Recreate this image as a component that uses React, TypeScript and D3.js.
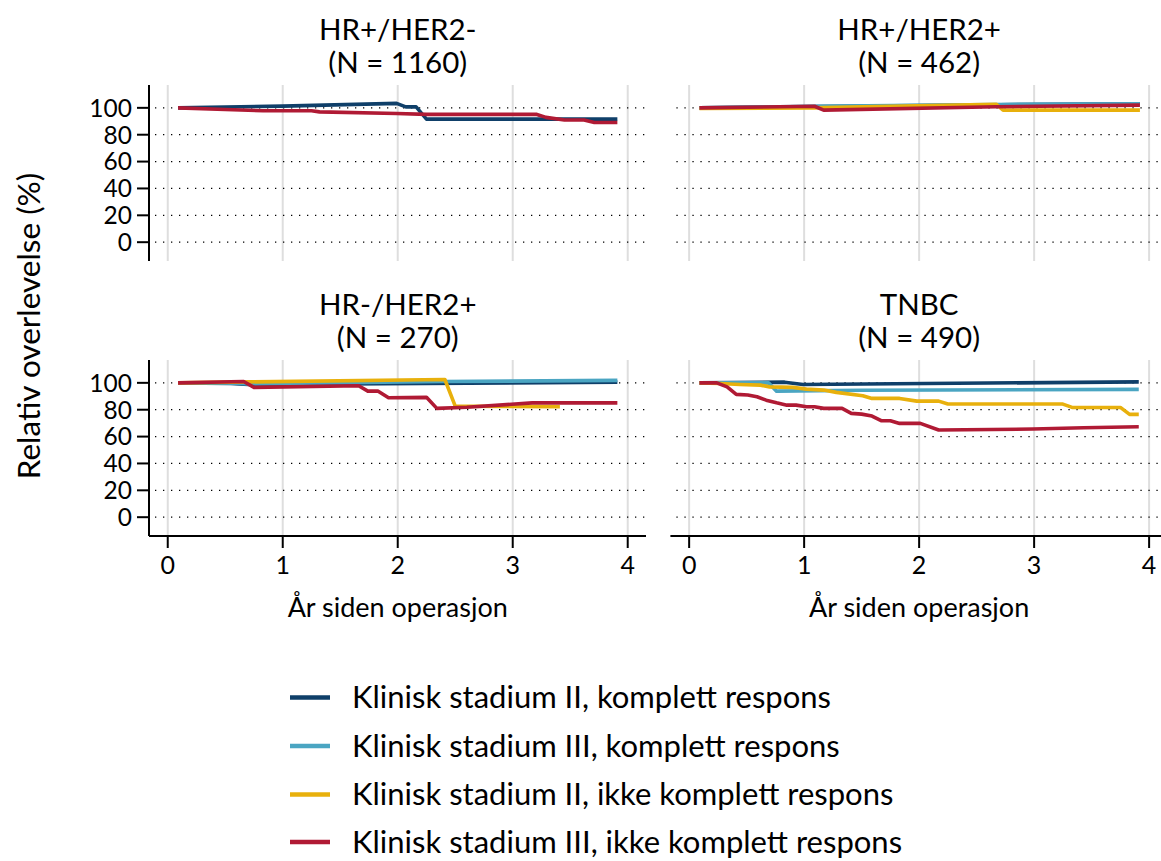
import React from "react";
import * as d3 from "d3";

type Pt = [number, number];

const seriesLabels = [
  "Klinisk stadium II, komplett respons",
  "Klinisk stadium III, komplett respons",
  "Klinisk stadium II, ikke komplett respons",
  "Klinisk stadium III, ikke komplett respons",
];
const seriesColors = ["#0f3f69", "#4aa5c2", "#e8b00c", "#b01a34"];

const panelTitles = ["HR+/HER2-", "HR+/HER2+", "HR-/HER2+", "TNBC"];
const panelN = ["(N = 1160)", "(N = 462)", "(N = 270)", "(N = 490)"];

const xTicks = [0, 1, 2, 3, 4];
const yTicks = [0, 20, 40, 60, 80, 100];

// HR+/HER2-
const p1_s2cr: Pt[] = [[0.09, 100], [1.0, 101.3], [1.99, 103.3], [2.07, 100.7], [2.16, 100.7], [2.25, 91.6], [3.91, 91.6]];
const p1_s3ncr: Pt[] = [[0.09, 100], [0.5, 98.8], [0.83, 97.8], [1.25, 97.8], [1.32, 97], [1.99, 95.8], [2.25, 95.1], [3.21, 95.1], [3.29, 92.9], [3.45, 90.9], [3.62, 90.9], [3.71, 89.1], [3.91, 89.1]];

// HR+/HER2+
const p2_s2cr: Pt[] = [[0.09, 100], [1.09, 101], [2.7, 102.3], [3.92, 103]];
const p2_s3cr: Pt[] = [[0.09, 100], [1.09, 101.2], [2.67, 102.5], [3.92, 103]];
const p2_s2ncr: Pt[] = [[0.09, 99.5], [1.09, 100], [1.17, 100.2], [2.67, 102.7], [2.73, 98.3], [3.92, 98.3]];
const p2_s3ncr: Pt[] = [[0.09, 100], [1.09, 101.2], [1.17, 98.3], [2.67, 100.8], [3.92, 102]];

// HR-/HER2+
const p3_s2cr: Pt[] = [[0.09, 100], [0.55, 99.5], [0.7, 98.8], [1.5, 99.2], [3.91, 100.5]];
const p3_s3cr: Pt[] = [[0.09, 100], [0.6, 99.8], [0.7, 99.2], [1.0, 99.6], [2.4, 101], [3.91, 101.8]];
const p3_s2ncr: Pt[] = [[0.09, 100], [0.71, 100.7], [2.41, 102.5], [2.5, 82.7], [3.41, 82.2]];
const p3_s3ncr: Pt[] = [[0.09, 100], [0.66, 101], [0.75, 96.6], [1.66, 97.8], [1.74, 93.8], [1.83, 93.8], [1.92, 88.9], [2.25, 89.2], [2.34, 81], [2.6, 81.8], [3.17, 85.1], [3.91, 85.1]];

// TNBC
const p4_s2cr: Pt[] = [[0.09, 100], [0.83, 100.5], [0.99, 98.8], [3.91, 100.7]];
const p4_s3cr: Pt[] = [[0.09, 100], [0.69, 100], [0.76, 93.8], [1.5, 94.5], [3.91, 95.1]];
const p4_s2ncr: Pt[] = [[0.09, 100], [0.27, 99.5], [0.44, 98.8], [0.62, 98.3], [0.7, 97.0], [0.9, 96.6], [1.02, 95.3], [1.17, 94.6], [1.28, 92.9], [1.51, 90.4], [1.59, 88.4], [1.83, 88.4], [1.98, 86.4], [2.17, 86.4], [2.25, 84.2], [3.25, 84.2], [3.33, 81.7], [3.75, 81.7], [3.83, 76.5], [3.91, 76.5]];
const p4_s3ncr: Pt[] = [[0.09, 100], [0.24, 100], [0.33, 97.0], [0.41, 91.4], [0.51, 90.9], [0.59, 89.6], [0.67, 87.1], [0.76, 85.1], [0.85, 83.4], [0.93, 83.4], [1.02, 82.2], [1.09, 82.2], [1.17, 81.0], [1.33, 81.0], [1.41, 77.3], [1.5, 76.7], [1.59, 75.3], [1.67, 71.8], [1.75, 71.8], [1.83, 69.8], [2.01, 69.8], [2.17, 64.9], [2.99, 65.6], [3.43, 66.6], [3.91, 67.3]];

const panelSeries: (Pt[] | null)[][] = [
  [p1_s2cr, null, null, p1_s3ncr],
  [p2_s2cr, p2_s3cr, p2_s2ncr, p2_s3ncr],
  [p3_s2cr, p3_s3cr, p3_s2ncr, p3_s3ncr],
  [p4_s2cr, p4_s3cr, p4_s2ncr, p4_s3ncr],
];

const FONT = "Lato, 'Open Sans', sans-serif";

export default function App() {
  const W = 1161, H = 861;
  const panelW = 497;
  const panelH = 176;
  const lefts = [149, 670.4];
  const tops = [85, 360];
  const xDomain: [number, number] = [-0.163, 4.159];
  const yDomain: [number, number] = [-14, 117];

  const panels = [0, 1, 2, 3].map((i) => {
    const col = i % 2, row = Math.floor(i / 2);
    const x0 = lefts[col], y0 = tops[row];
    const x = d3.scaleLinear().domain(xDomain).range([x0, x0 + panelW]);
    const y = d3.scaleLinear().domain(yDomain).range([y0 + panelH, y0]);
    const line = d3.line<Pt>().x((d) => x(d[0])).y((d) => y(d[1]));
    const right = col === 0 ? x0 + panelW : W;
    return (
      <g key={i}>
        <text x={x(2)} y={y0 - 45} textAnchor="middle" fontSize={29.5} fontFamily={FONT} fill="#000">{panelTitles[i]}</text>
        <text x={x(2)} y={y0 - 12} textAnchor="middle" fontSize={29.5} fontFamily={FONT} fill="#000">{panelN[i]}</text>
        {xTicks.map((t) => (
          <line key={"vg" + t} x1={x(t)} x2={x(t)} y1={y0} y2={y0 + panelH} stroke="#dedede" strokeWidth={2} />
        ))}
        {yTicks.map((t) => (
          <line key={"hg" + t} x1={x0 + 6} x2={right} y1={y(t)} y2={y(t)} stroke="#000" strokeWidth={1.3} strokeDasharray="1.3 6.7" />
        ))}
        {panelSeries[i].map((s, k) =>
          s ? <path key={"s" + k} d={line(s) || ""} fill="none" stroke={seriesColors[k]} strokeWidth={3.6} strokeLinejoin="round" /> : null
        )}
        {col === 0 && (
          <g>
            <line x1={x0} x2={x0} y1={y0} y2={y0 + panelH} stroke="#000" strokeWidth={2} />
            {yTicks.map((t) => (
              <g key={"yt" + t}>
                <line x1={x0 - 12} x2={x0} y1={y(t)} y2={y(t)} stroke="#000" strokeWidth={2} />
                <text x={x0 - 17} y={y(t)} dy="0.36em" textAnchor="end" fontSize={24.5} fontFamily={FONT} fill="#000">{t}</text>
              </g>
            ))}
          </g>
        )}
        {row === 1 && (
          <g>
            <line x1={x0} x2={right} y1={y0 + panelH} y2={y0 + panelH} stroke="#000" strokeWidth={2} />
            {xTicks.map((t) => (
              <g key={"xt" + t}>
                <line x1={x(t)} x2={x(t)} y1={y0 + panelH} y2={y0 + panelH + 12} stroke="#000" strokeWidth={2} />
                <text x={x(t)} y={y0 + panelH + 38} textAnchor="middle" fontSize={25} fontFamily={FONT} fill="#000">{t}</text>
              </g>
            ))}
            <text x={x(2)} y={y0 + panelH + 81} textAnchor="middle" fontSize={27} fontFamily={FONT} fill="#000">År siden operasjon</text>
          </g>
        )}
      </g>
    );
  });

  const legendY = [697.5, 746, 794.5, 842];

  return (
    <svg width={W} height={H} style={{ position: "absolute", left: 0, top: 0, background: "#fff" }}>
      <rect x={0} y={0} width={W} height={H} fill="#fff" />
      {panels}
      <text transform={`translate(40,326) rotate(-90)`} textAnchor="middle" fontSize={31.5} fontFamily={FONT} fill="#000">Relativ overlevelse (%)</text>
      {seriesLabels.map((lab, k) => (
        <g key={lab}>
          <line x1={290} x2={330} y1={legendY[k]} y2={legendY[k]} stroke={seriesColors[k]} strokeWidth={4.5} />
          <text x={352} y={legendY[k]} dy="0.35em" fontSize={31} fontFamily={FONT} fill="#000">{lab}</text>
        </g>
      ))}
    </svg>
  );
}
